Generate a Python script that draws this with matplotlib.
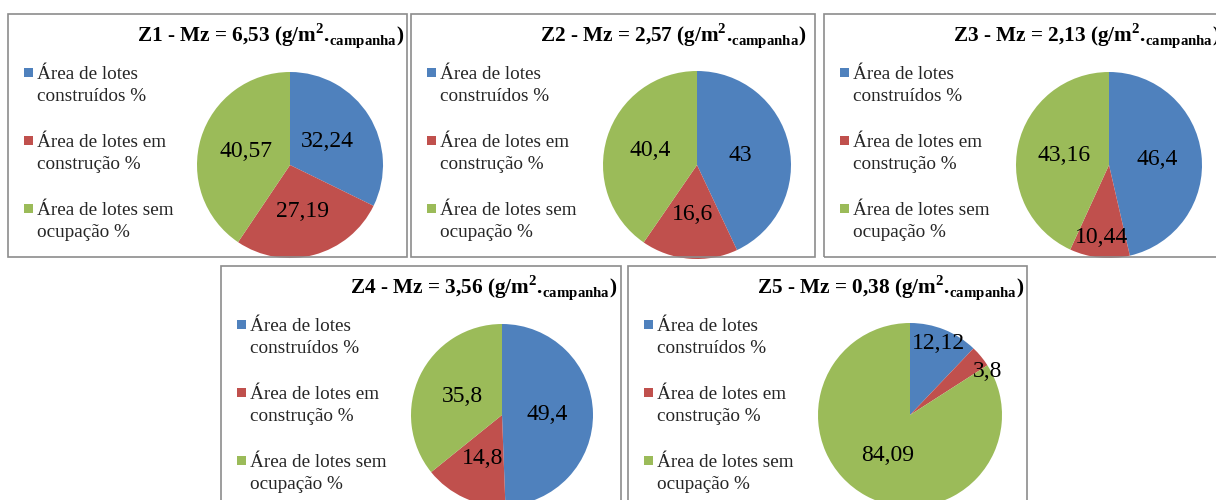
import numpy as np
import matplotlib
matplotlib.use("Agg")
import matplotlib.pyplot as plt
from matplotlib.patches import Rectangle

plt.rcParams['font.family'] = ['Liberation Serif', 'DejaVu Serif']
plt.rcParams['mathtext.fontset'] = 'custom'
plt.rcParams['mathtext.rm'] = 'Liberation Serif'
plt.rcParams['mathtext.bf'] = 'Liberation Serif:bold'

# area shares (%) per zone: built lots, lots under construction, empty lots
zones = ["Z1", "Z2", "Z3", "Z4", "Z5"]
mz = [6.53, 2.57, 2.13, 3.56, 0.38]
construidos = [32.24, 43, 46.4, 49.4, 12.12]
em_construcao = [27.19, 16.6, 10.44, 14.8, 3.8]
sem_ocupacao = [40.57, 40.4, 43.16, 35.8, 84.09]
labels = ["Área de lotes\nconstruídos %",
          "Área de lotes em\nconstrução %",
          "Área de lotes sem\nocupação %"]
colors = ["#4F81BD", "#C0504D", "#9BBB59"]

W, H = 1216, 500


def fx(x):
    return x / W


def fy(y):
    return 1 - y / H


# panel boxes in pixels: left, top, right, bottom
panels = [(8, 14, 407, 257), (411, 14, 815, 257), (824, 14, 1240, 257),
          (221, 266, 621, 530), (628, 266, 1027, 530)]
# pie centre relative to panel corner, radius
pies = [(282, 151, 93), (286, 151, 94), (285, 151, 93),
        (281, 149, 91), (282, 149, 92)]
# label distance from centre (fraction of radius) and angle nudge (deg)
label_pos = [[(0.48, 0), (0.52, 0), (0.5, 0)],
             [(0.47, 0), (0.53, 0), (0.52, 0)],
             [(0.52, 0), (0.78, 0), (0.5, 0)],
             [(0.5, 0), (0.52, 0), (0.48, 0)],
             [(0.84, 0), (0.97, -10), (0.5, 0)]]

fig = plt.figure(figsize=(W / 100, H / 100), dpi=100)

for i, zone in enumerate(zones):
    left, top, right, bottom = panels[i]
    fig.add_artist(Rectangle((fx(left), fy(bottom)), (right - left) / W,
                             (bottom - top) / H, transform=fig.transFigure,
                             facecolor='none', edgecolor='#8c8c8c', lw=1.2))

    mz_txt = f"{mz[i]:.2f}".replace('.', ',')
    title = (f"{zone} - Mz = {mz_txt} (g/m" + r"$^{\mathbf{2}}$" + "."
             + r"$_{\mathbf{campanha}}$" + ")")
    fig.text(fx(left + 129), fy(top + 27), title, fontsize=15.3,
             fontweight='bold', ha='left', va='baseline')

    # legend squares and text
    for k, lab in enumerate(labels):
        base = top + 65 + k * 68
        sq = 9
        fig.add_artist(Rectangle((fx(left + 16), fy(base - 2)), sq / W, sq / H,
                                 transform=fig.transFigure,
                                 facecolor=colors[k], edgecolor='none'))
        for j, line in enumerate(lab.split("\n")):
            fig.text(fx(left + 29), fy(base + j * 22), line, fontsize=13.8,
                     color='#262626', ha='left', va='baseline')

    cx, cy, r = pies[i]
    cx, cy = left + cx, top + cy
    ax = fig.add_axes([fx(cx - r), fy(cy + r), 2 * r / W, 2 * r / H])
    vals = [construidos[i], em_construcao[i], sem_ocupacao[i]]
    wedges, _ = ax.pie(vals, colors=colors, startangle=90, counterclock=False,
                       wedgeprops={'linewidth': 0, 'clip_on': False})
    ax.set_xlim(-1, 1)
    ax.set_ylim(-1, 1)
    ax.set_aspect('equal')
    ax.axis('off')
    for w, v, (d, da) in zip(wedges, vals, label_pos[i]):
        ang = np.deg2rad((w.theta1 + w.theta2) / 2 + da)
        ax.text(d * np.cos(ang), d * np.sin(ang), f"{v:g}".replace('.', ','),
                fontsize=17, ha='center', va='center', color='black',
                clip_on=False)

fig.savefig("out.png", dpi=100)
